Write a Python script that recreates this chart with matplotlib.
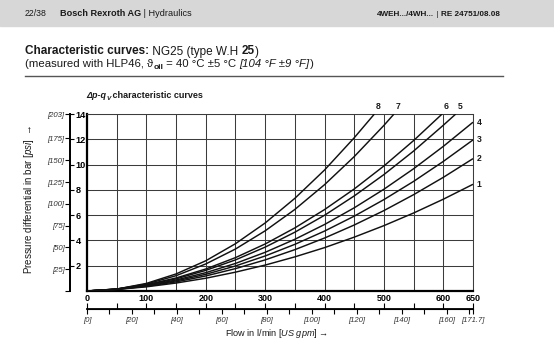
import matplotlib
matplotlib.use("Agg")
import matplotlib.pyplot as plt
from matplotlib.patches import Rectangle

plt.rcParams["font.family"] = ["Liberation Sans", "DejaVu Sans"]
plt.rcParams["mathtext.fontset"] = "custom"
plt.rcParams["mathtext.rm"] = "Liberation Sans"
plt.rcParams["mathtext.it"] = "Liberation Sans:italic"
plt.rcParams["mathtext.bf"] = "Liberation Sans:bold"

# ---------------------------------------------------------------------
# Data (flow in l/min, pressure differential in bar)
# ---------------------------------------------------------------------
FLOW_FULL = [0, 50, 100, 150, 200, 250, 300, 350, 400, 450, 500, 550, 600, 650]

P_CURVE_1 = [0, 0.12, 0.33, 0.63, 1.01, 1.49, 2.05, 2.70, 3.43, 4.26, 5.17, 6.17, 7.26, 8.44]
P_CURVE_2 = [0, 0.13, 0.37, 0.72, 1.19, 1.77, 2.46, 3.27, 4.19, 5.22, 6.36, 7.62, 8.99, 10.47]
P_CURVE_3 = [0, 0.13, 0.40, 0.80, 1.32, 1.98, 2.77, 3.69, 4.74, 5.92, 7.23, 8.67, 10.25, 11.95]
P_CURVE_4 = [0, 0.14, 0.43, 0.87, 1.45, 2.18, 3.06, 4.09, 5.26, 6.58, 8.05, 9.67, 11.44, 13.35]

FLOW_5 = [0, 50, 100, 150, 200, 250, 300, 350, 400, 450, 500, 550, 600, 621]
P_CURVE_5 = [0, 0.15, 0.47, 0.96, 1.63, 2.46, 3.47, 4.65, 5.99, 7.52, 9.21, 11.07, 13.11, 14.0]

FLOW_6 = [0, 50, 100, 150, 200, 250, 300, 350, 400, 450, 500, 550, 598]
P_CURVE_6 = [0, 0.16, 0.50, 1.03, 1.74, 2.64, 3.72, 4.99, 6.44, 8.07, 9.89, 11.90, 14.0]

FLOW_7 = [0, 50, 100, 150, 200, 250, 300, 350, 400, 450, 500, 517]
P_CURVE_7 = [0, 0.15, 0.55, 1.21, 2.14, 3.32, 4.76, 6.45, 8.41, 10.63, 13.10, 14.0]

FLOW_8 = [0, 50, 100, 150, 200, 250, 300, 350, 400, 450, 484]
P_CURVE_8 = [0, 0.15, 0.60, 1.35, 2.39, 3.74, 5.38, 7.33, 9.57, 12.12, 14.0]

CURVES = [
    ("1", FLOW_FULL, P_CURVE_1),
    ("2", FLOW_FULL, P_CURVE_2),
    ("3", FLOW_FULL, P_CURVE_3),
    ("4", FLOW_FULL, P_CURVE_4),
    ("5", FLOW_5, P_CURVE_5),
    ("6", FLOW_6, P_CURVE_6),
    ("7", FLOW_7, P_CURVE_7),
    ("8", FLOW_8, P_CURVE_8),
]

BAR_TICKS = [2, 4, 6, 8, 10, 12, 14]
PSI_TICKS = [25, 50, 75, 100, 125, 150, 175, 203]
LMIN_TICKS = [0, 100, 200, 300, 400, 500, 600, 650]
GPM_TICKS = [0, 20, 40, 60, 80, 100, 120, 140, 160, 171.7]
GPM_LABELS = ["[0]", "[20]", "[40]", "[60]", "[80]", "[100]", "[120]", "[140]", "[160]", "[171.7]"]
GPM_MINOR = [10, 30, 50, 70, 90, 110, 130, 150, 170]

BAR_TO_PSI = 14.5038
GPM_TO_LMIN = 3.7854

W, H = 554, 360
GRID_COLOR = "#3c3c3c"
TEXT_COLOR = "#1a1a1a"


def text_run(ax, x, y, parts, size, color=TEXT_COLOR):
    """Write several differently styled pieces of text one after another."""
    first_style = dict(parts[0][1])
    first = ax.text(x, y, parts[0][0], fontsize=first_style.pop("size", size),
                    va="bottom", ha="left", color=color, **first_style)
    prev = first
    for piece, style in parts[1:]:
        style = dict(style)
        dy = style.pop("dy", 0)
        fs = style.pop("size", size)
        prev = ax.annotate(piece, xy=(1, 0), xycoords=(prev, first),
                           xytext=(0, dy), textcoords="offset points",
                           fontsize=fs, va="bottom", ha="left", color=color, **style)
    return first


fig = plt.figure(figsize=(W / 100, H / 100), dpi=100)

# background layer in pixel coordinates for the page furniture
bg = fig.add_axes([0, 0, 1, 1])
bg.set_xlim(0, W)
bg.set_ylim(H, 0)
bg.axis("off")
bg.add_patch(Rectangle((0, 0), W, 26, color="#d7d7d7", zorder=0))

text_run(bg, 25, 18.5, [("22/38", {})], 6.3)
text_run(bg, 60, 18.5, [("Bosch Rexroth AG", {"fontweight": "bold"}),
                        (" | Hydraulics", {})], 6.6)
text_run(bg, 377, 18.5, [("4WEH.../4WH...", {"fontweight": "bold"}),
                         (" | ", {}),
                         ("RE 24751/08.08", {"fontweight": "bold"})], 5.9)

text_run(bg, 25, 57.5, [("Characteristic curves:", {"fontweight": "bold"}),
                        (" NG25 (type W.H ", {}),
                        ("25", {"fontweight": "bold"}),
                        (")", {})], 8.5)
text_run(bg, 25, 69, [("(measured with HLP46, ", {}),
                      ("\u03d1", {}),
                      ("oil", {"fontweight": "bold", "size": 6, "dy": -1.5}),
                      (" = 40 \u00b0C \u00b15 \u00b0C ", {}),
                      ("[104 \u00b0F \u00b19 \u00b0F]", {"style": "italic"}),
                      (")", {})], 8.2)
bg.plot([25, 503], [76, 76], color="#555555", lw=1.0)

text_run(bg, 86, 99.5, [("\u0394p-q", {"fontweight": "bold", "style": "italic"}),
                        ("V", {"fontweight": "bold", "style": "italic", "size": 4.6, "dy": -1.2}),
                        (" characteristic curves", {"fontweight": "bold"})], 6.5)

bg.text(29, 199, "Pressure differential in bar $\\mathit{[psi]}$  \u2192",
        rotation=90, ha="center", va="center", fontsize=7.0, color=TEXT_COLOR)
bg.text(277, 334, "Flow in l/min $\\mathit{[US\\ gpm]}$ \u2192",
        ha="center", va="center", fontsize=6.6, color=TEXT_COLOR)

# ---------------------------------------------------------------------
# Main chart
# ---------------------------------------------------------------------
ax = fig.add_axes([87 / W, 69 / H, 386 / W, 177 / H])
ax.set_xlim(0, 650)
ax.set_ylim(0, 14)

ax.set_xticks(LMIN_TICKS)
ax.set_xticklabels([str(v) for v in LMIN_TICKS], fontweight="bold")
ax.set_xticks(range(0, 651, 50), minor=True)
ax.set_yticks([0] + BAR_TICKS)
ax.tick_params(axis="x", which="both", length=0, pad=2.5, labelsize=6.5)
ax.tick_params(axis="y", which="both", left=False, labelleft=False)
ax.grid(True, which="both", color=GRID_COLOR, lw=0.75)
ax.set_axisbelow(True)

for name in ("left", "bottom"):
    ax.spines[name].set_linewidth(1.6)
    ax.spines[name].set_color("black")
for name in ("top", "right"):
    ax.spines[name].set_linewidth(0.75)
    ax.spines[name].set_color(GRID_COLOR)

for label, flow, pressure in CURVES:
    ax.plot(flow, pressure, color="#111111", lw=1.05, solid_capstyle="butt", zorder=3)
    if pressure[-1] >= 14:
        ax.annotate(label, xy=(flow[-1], pressure[-1]), xytext=(3, 2),
                    textcoords="offset points", ha="center", va="bottom",
                    fontsize=6.2, fontweight="bold", color=TEXT_COLOR,
                    annotation_clip=False)
    else:
        ax.annotate(label, xy=(flow[-1], pressure[-1]), xytext=(2.8, 0),
                    textcoords="offset points", ha="left", va="center",
                    fontsize=6.2, fontweight="bold", color=TEXT_COLOR,
                    annotation_clip=False)

# pressure scales: [psi] on the left of the detached spine, bar on the right
scale_x = -17 / 386
psi_axis = ax.secondary_yaxis(scale_x, functions=(lambda b: b * BAR_TO_PSI,
                                                  lambda p: p / BAR_TO_PSI))
psi_axis.set_yticks([0] + PSI_TICKS)
psi_axis.set_yticklabels([""] + ["[%d]" % v for v in PSI_TICKS],
                         style="italic", color="#333333")
psi_axis.tick_params(axis="y", direction="out", length=3.5, width=0.8,
                     pad=0.5, labelsize=5.6)
psi_axis.spines["left"].set_linewidth(1.3)

bar_axis = ax.secondary_yaxis(scale_x)
bar_axis.set_alignment("right")
bar_axis.set_yticks(BAR_TICKS)
bar_axis.set_yticklabels([str(v) for v in BAR_TICKS], fontweight="bold")
bar_axis.tick_params(axis="y", direction="out", length=3, width=0.8,
                     pad=1, labelsize=6.6)
bar_axis.spines["right"].set_linewidth(1.3)

# flow scale in [US gpm] below the chart
scale_y = -18 / 177
gpm_axis = ax.secondary_xaxis(scale_y, functions=(lambda q: q / GPM_TO_LMIN,
                                                  lambda g: g * GPM_TO_LMIN))
gpm_axis.set_xticks(GPM_TICKS)
gpm_axis.set_xticklabels(GPM_LABELS, style="italic", color="#333333")
gpm_axis.set_xticks(GPM_MINOR, minor=True)
gpm_axis.tick_params(axis="x", which="both", direction="out", length=3.5,
                     width=0.8, pad=2, labelsize=5.6)
gpm_axis.spines["bottom"].set_linewidth(1.3)

lmin_marks = ax.secondary_xaxis(scale_y)
lmin_marks.set_alignment("top")
lmin_marks.set_xticks(list(range(0, 651, 50)))
lmin_marks.tick_params(axis="x", direction="out", length=4, width=0.8,
                       labeltop=False)

fig.savefig("out.png", dpi=100)
